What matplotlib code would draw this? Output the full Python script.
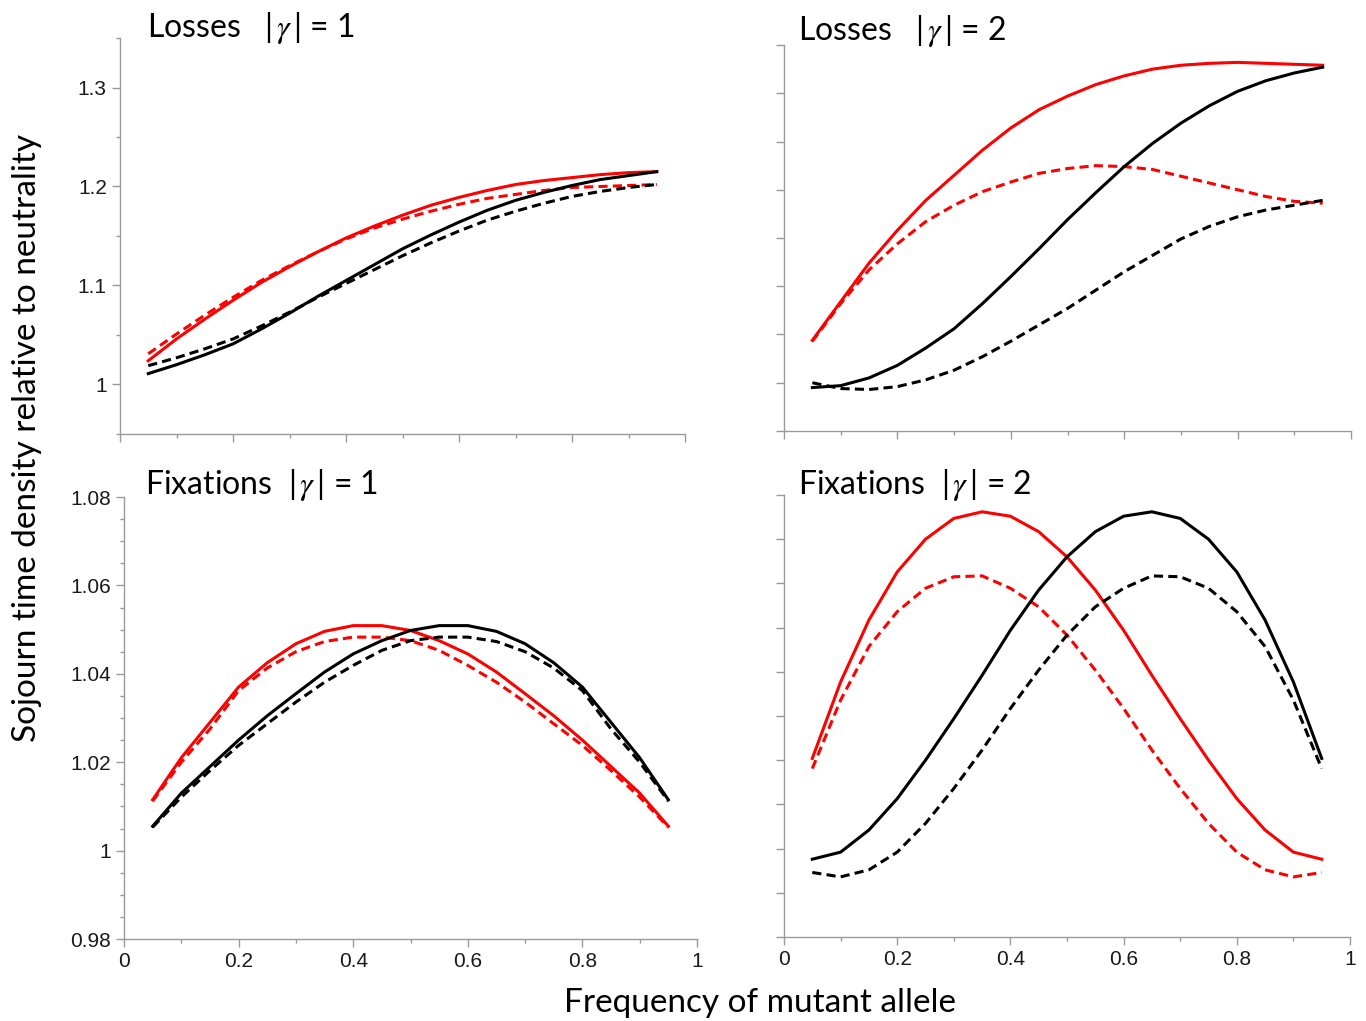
import matplotlib
matplotlib.use("Agg")
import matplotlib.pyplot as plt
from matplotlib.ticker import MultipleLocator, FuncFormatter

plt.rcParams['mathtext.fontset'] = 'stix'

freq = [0.05, 0.10, 0.15, 0.20, 0.25, 0.30, 0.35, 0.40, 0.45, 0.50,
        0.55, 0.60, 0.65, 0.70, 0.75, 0.80, 0.85, 0.90, 0.95]

# Losses |gamma| = 1
loss1_red_solid = [1.024, 1.046, 1.066, 1.085, 1.103, 1.119, 1.134, 1.148, 1.160, 1.171,
                   1.181, 1.189, 1.196, 1.202, 1.206, 1.209, 1.212, 1.214, 1.215]
loss1_red_dash = [1.031, 1.051, 1.070, 1.088, 1.105, 1.120, 1.134, 1.147, 1.158, 1.167,
                  1.175, 1.182, 1.188, 1.192, 1.196, 1.199, 1.200, 1.201, 1.202]
loss1_black_solid = [1.011, 1.020, 1.030, 1.041, 1.056, 1.072, 1.089, 1.105, 1.121, 1.137,
                     1.151, 1.164, 1.176, 1.186, 1.194, 1.201, 1.207, 1.211, 1.215]
loss1_black_dash = [1.019, 1.027, 1.036, 1.046, 1.059, 1.073, 1.088, 1.102, 1.116, 1.130,
                    1.143, 1.155, 1.166, 1.175, 1.183, 1.190, 1.195, 1.199, 1.202]

# Losses |gamma| = 2
loss2_red_solid = [1.044, 1.084, 1.124, 1.158, 1.189, 1.215, 1.241, 1.264, 1.283, 1.297,
                   1.309, 1.318, 1.325, 1.329, 1.331, 1.332, 1.331, 1.330, 1.329]
loss2_red_dash = [1.043, 1.082, 1.117, 1.144, 1.167, 1.184, 1.198, 1.208, 1.217, 1.222,
                  1.225, 1.224, 1.221, 1.214, 1.207, 1.200, 1.193, 1.188, 1.186]
loss2_black_solid = [0.995, 0.997, 1.005, 1.018, 1.036, 1.056, 1.082, 1.110, 1.139, 1.169,
                     1.197, 1.224, 1.248, 1.269, 1.287, 1.302, 1.313, 1.321, 1.327]
loss2_black_dash = [1.000, 0.994, 0.993, 0.996, 1.003, 1.013, 1.027, 1.043, 1.060, 1.077,
                    1.096, 1.115, 1.132, 1.149, 1.162, 1.172, 1.179, 1.184, 1.189]

# Fixations |gamma| = 1
fix1_red_solid = [1.0115, 1.021, 1.029, 1.037, 1.0425, 1.0468, 1.0496, 1.0509, 1.0509, 1.0498,
                  1.0475, 1.0445, 1.0404, 1.0355, 1.0305, 1.025, 1.019, 1.013, 1.0055]
fix1_red_dash = [1.0112, 1.020, 1.0275, 1.0362, 1.0413, 1.045, 1.0473, 1.0483, 1.0483, 1.0475,
                 1.0453, 1.0419, 1.0381, 1.0336, 1.0287, 1.0238, 1.0181, 1.0121, 1.0053]
fix1_black_solid = [1.0055, 1.013, 1.019, 1.025, 1.0305, 1.0355, 1.0404, 1.0445, 1.0475, 1.0498,
                    1.0509, 1.0509, 1.0496, 1.0468, 1.0425, 1.037, 1.029, 1.021, 1.0115]
fix1_black_dash = [1.0053, 1.0121, 1.0181, 1.0238, 1.0287, 1.0336, 1.0381, 1.0419, 1.0453, 1.0475,
                   1.0483, 1.0483, 1.0473, 1.045, 1.0413, 1.0362, 1.0275, 1.020, 1.0112]

# Fixations |gamma| = 2
fix2_red_solid = [1.0204, 1.0377, 1.0517, 1.0626, 1.0700, 1.0747, 1.0762, 1.0752, 1.0717, 1.0660,
                  1.0585, 1.0494, 1.0392, 1.0294, 1.0200, 1.0113, 1.0042, 0.9992, 0.9976]
fix2_red_dash = [1.0181, 1.0336, 1.0457, 1.0536, 1.0589, 1.0615, 1.0617, 1.0589, 1.0547, 1.0483,
                 1.0404, 1.0317, 1.0223, 1.0136, 1.0057, 0.9992, 0.9952, 0.9936, 0.9946]
fix2_black_solid = [0.9976, 0.9992, 1.0042, 1.0113, 1.0200, 1.0294, 1.0392, 1.0494, 1.0585, 1.0660,
                    1.0717, 1.0752, 1.0762, 1.0747, 1.0700, 1.0626, 1.0517, 1.0377, 1.0204]
fix2_black_dash = [0.9946, 0.9936, 0.9952, 0.9992, 1.0057, 1.0136, 1.0223, 1.0317, 1.0404, 1.0483,
                   1.0547, 1.0589, 1.0617, 1.0615, 1.0589, 1.0536, 1.0457, 1.0336, 1.0181]

titles = ["Losses   |$\\,\\gamma\\,$| = 1", "Losses   |$\\,\\gamma\\,$| = 2",
          "Fixations  |$\\,\\gamma\\,$| = 1", "Fixations  |$\\,\\gamma\\,$| = 2"]

fig = plt.figure(figsize=(13.66, 10.21), dpi=100)
W, H = 1366.0, 1021.0


def make_axes(x0, y0, x1, y1):
    return fig.add_axes([x0 / W, 1 - y1 / H, (x1 - x0) / W, (y1 - y0) / H])


ax_tl = make_axes(120, 38, 685, 434)
ax_tr = make_axes(784, 45, 1351, 431)
ax_bl = make_axes(124, 497, 697, 939)
ax_br = make_axes(784, 495, 1350, 937)

panels = [
    (ax_tl, loss1_red_solid, loss1_red_dash, loss1_black_solid, loss1_black_dash),
    (ax_tr, loss2_red_solid, loss2_red_dash, loss2_black_solid, loss2_black_dash),
    (ax_bl, fix1_red_solid, fix1_red_dash, fix1_black_solid, fix1_black_dash),
    (ax_br, fix2_red_solid, fix2_red_dash, fix2_black_solid, fix2_black_dash),
]

grey = '#9a9a9a'
fmt = FuncFormatter(lambda v, p: '%g' % round(v, 4))

for ax, rs, rd, bs, bd in panels:
    ax.plot(freq, rs, color='#ff0000', lw=2.2)
    ax.plot(freq, rd, color='#ff0000', lw=2.2, dashes=(3.0, 1.7))
    ax.plot(freq, bs, color='black', lw=2.2)
    ax.plot(freq, bd, color='black', lw=2.2, dashes=(3.0, 1.7))
    ax.set_xlim(0, 1)
    ax.xaxis.set_major_locator(MultipleLocator(0.2))
    ax.xaxis.set_minor_locator(MultipleLocator(0.1))
    ax.xaxis.set_major_formatter(fmt)
    for s in ['top', 'right']:
        ax.spines[s].set_visible(False)
    for s in ['left', 'bottom']:
        ax.spines[s].set_color(grey)
        ax.spines[s].set_linewidth(1.0)
    ax.tick_params(which='both', direction='out', color=grey, width=1.0,
                   labelsize=15, labelcolor='#1a1a1a')
    ax.tick_params(which='major', length=6)
    ax.tick_params(which='minor', length=3)

for ax in [ax_tl, ax_tr]:
    ax.set_ylim(0.95, 1.35)
    ax.tick_params(axis='x', labelbottom=False)

ax_tl.yaxis.set_major_locator(MultipleLocator(0.1))
ax_tl.yaxis.set_minor_locator(MultipleLocator(0.05))
ax_tl.yaxis.set_major_formatter(fmt)
ax_tr.yaxis.set_major_locator(MultipleLocator(0.05))
ax_tr.tick_params(axis='y', labelleft=False)

for ax in [ax_bl, ax_br]:
    ax.set_ylim(0.98, 1.08)

ax_bl.yaxis.set_major_locator(MultipleLocator(0.02))
ax_bl.yaxis.set_minor_locator(MultipleLocator(0.005))
ax_bl.yaxis.set_major_formatter(fmt)
ax_br.yaxis.set_major_locator(MultipleLocator(0.01))
ax_br.tick_params(axis='y', labelleft=False)

for ax in [ax_tl, ax_tr, ax_bl, ax_br]:
    for lab in ax.get_xticklabels() + ax.get_yticklabels():
        lab.set_fontfamily('Liberation Sans')

title_pos = [(147, 37), (798, 40), (145, 494), (798, 494)]
for (tx, ty), t in zip(title_pos, titles):
    fig.text(tx / W, 1 - ty / H, t, fontsize=23, family='Lato', va='baseline', ha='left')

fig.text(27 / W, 1 - 438 / H, 'Sojourn time density relative to neutrality',
         rotation=90, fontsize=24, family='Lato', ha='center', va='center')
fig.text(760 / W, 1 - 1003 / H, 'Frequency of mutant allele',
         fontsize=24, family='Lato', ha='center', va='center')

fig.savefig('out.png', dpi=100)
